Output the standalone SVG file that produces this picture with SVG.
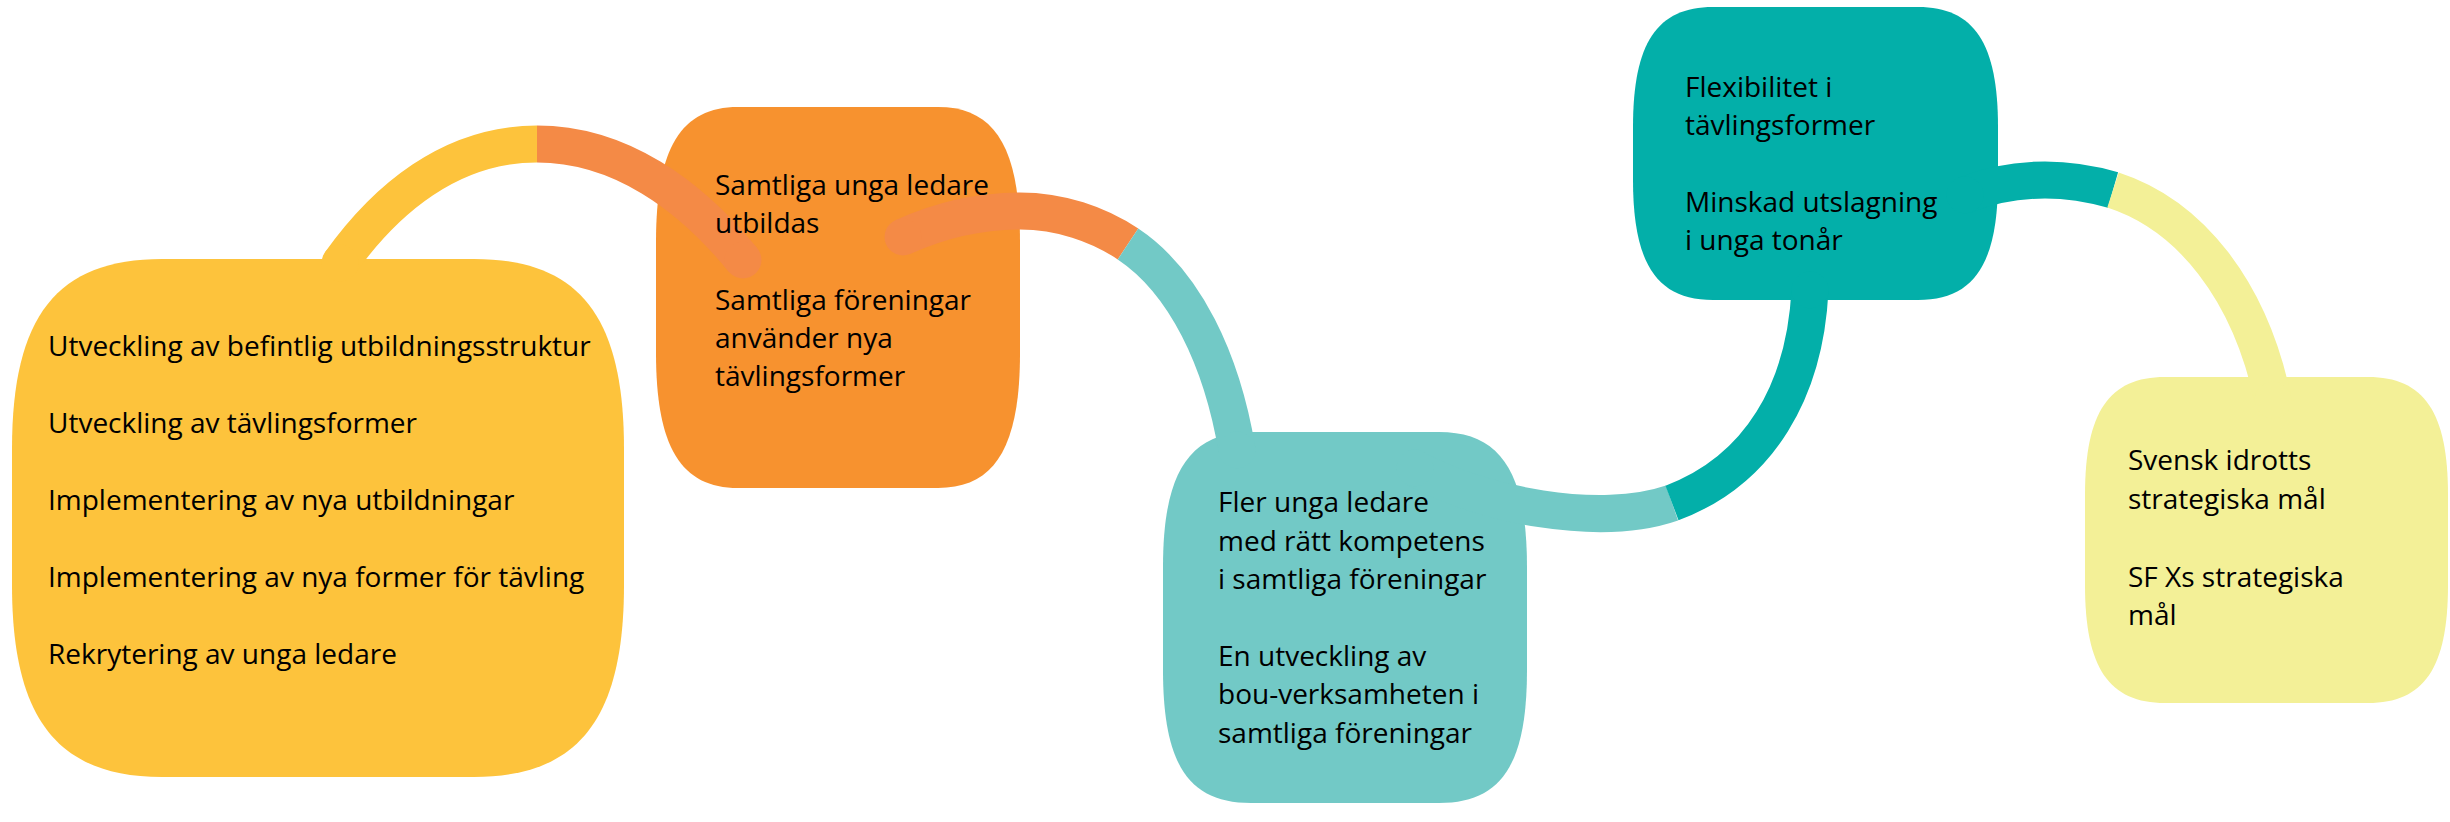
<svg xmlns="http://www.w3.org/2000/svg" width="2450" height="822" viewBox="0 0 2450 822">
<style>
.t{font-family:"Open Sans","Noto Sans","Liberation Sans",sans-serif;font-size:28px;fill:#000}
.c{fill:none;stroke-width:37;stroke-linecap:butt}
</style>
<rect width="2450" height="822" fill="#fff"/>
<g id="node-yellow">
<path fill="#FDC33C" d="M162,259 H474 C579,259 624,316 624,449 V585 C624,718 579,777 474,777 H162 C57,777 12,718 12,585 V449 C12,316 57,259 162,259 Z"/>
</g>
<g id="node-orange">
<path fill="#F7922F" d="M738,107 H938 C995,107 1020,148 1020,242 V353 C1020,447 995,488 938,488 H738 C681,488 656,447 656,353 V242 C656,148 681,107 738,107 Z"/>
</g>
<g id="node-lightteal">
<path fill="#72C9C6" d="M1251,432 H1439 C1501,432 1527,473 1527,567 V670 C1527,765 1501,803 1439,803 H1251 C1189,803 1163,765 1163,670 V567 C1163,473 1189,432 1251,432 Z"/>
</g>
<g id="node-darkteal">
<path fill="#03AFA9" d="M1713,7 H1918 C1974,7 1998,43 1998,127 V180 C1998,264 1974,300 1918,300 H1713 C1657,300 1633,264 1633,180 V127 C1633,43 1657,7 1713,7 Z"/>
</g>
<g id="node-lightyellow">
<path fill="#F3F097" d="M2165,377 H2368 C2424,377 2448,412 2448,495 V585 C2448,668 2424,703 2368,703 H2165 C2109,703 2085,668 2085,585 V495 C2085,412 2109,377 2165,377 Z"/>
</g>
<g id="connectors">
<path class="c" stroke="#FDC33C" d="M340,263 C385,200 450,144 537,144"/>
<circle cx="340" cy="263" r="18.5" fill="#FDC33C"/>
<path class="c" stroke="#F48A46" d="M537,144 C620,144 690,195 743,260"/>
<circle cx="743" cy="260" r="18.5" fill="#F48A46"/>
<path class="c" stroke="#F48A46" d="M903,237 C945,218 985,211 1020,211 C1060,211 1098,224 1128,244"/>
<circle cx="903" cy="237" r="18.5" fill="#F48A46"/>
<path class="c" stroke="#72C9C6" d="M1128,244 C1185,282 1222,360 1237,450"/>
<circle cx="1237" cy="450" r="18.5" fill="#72C9C6"/>
<path class="c" stroke="#72C9C6" d="M1415,468 C1480,505 1600,528 1672,503"/>
<circle cx="1415" cy="468" r="18.5" fill="#72C9C6"/>
<path class="c" stroke="#03AFA9" d="M1672,503 C1760,470 1805,390 1810,290"/>
<circle cx="1810" cy="290" r="18.5" fill="#03AFA9"/>
<path class="c" stroke="#03AFA9" d="M1965,195 C1990,185 2015,180 2045,180 C2070,180 2092,184 2113,190"/>
<circle cx="1965" cy="195" r="18.5" fill="#03AFA9"/>
<path class="c" stroke="#F3F097" d="M2113,190 C2190,215 2250,290 2273,400"/>
<circle cx="2273" cy="400" r="18.5" fill="#F3F097"/>
</g>
<g id="text-yellow" class="t">
<text x="48" y="356">Utveckling av befintlig utbildningsstruktur</text>
<text x="48" y="433">Utveckling av tävlingsformer</text>
<text x="48" y="510">Implementering av nya utbildningar</text>
<text x="48" y="587">Implementering av nya former för tävling</text>
<text x="48" y="664">Rekrytering av unga ledare</text>
</g>
<g id="text-orange" class="t">
<text x="715" y="195">Samtliga unga ledare</text>
<text x="715" y="233">utbildas</text>
<text x="715" y="310">Samtliga föreningar</text>
<text x="715" y="348">använder nya</text>
<text x="715" y="386">tävlingsformer</text>
</g>
<g id="text-lightteal" class="t">
<text x="1218" y="512">Fler unga ledare</text>
<text x="1218" y="551">med rätt kompetens</text>
<text x="1218" y="589">i samtliga föreningar</text>
<text x="1218" y="666">En utveckling av</text>
<text x="1218" y="704">bou-verksamheten i</text>
<text x="1218" y="743">samtliga föreningar</text>
</g>
<g id="text-darkteal" class="t">
<text x="1685" y="97">Flexibilitet i</text>
<text x="1685" y="135">tävlingsformer</text>
<text x="1685" y="212">Minskad utslagning</text>
<text x="1685" y="250">i unga tonår</text>
</g>
<g id="text-lightyellow" class="t">
<text x="2128" y="470">Svensk idrotts</text>
<text x="2128" y="509">strategiska mål</text>
<text x="2128" y="587">SF Xs strategiska</text>
<text x="2128" y="625">mål</text>
</g>
</svg>
